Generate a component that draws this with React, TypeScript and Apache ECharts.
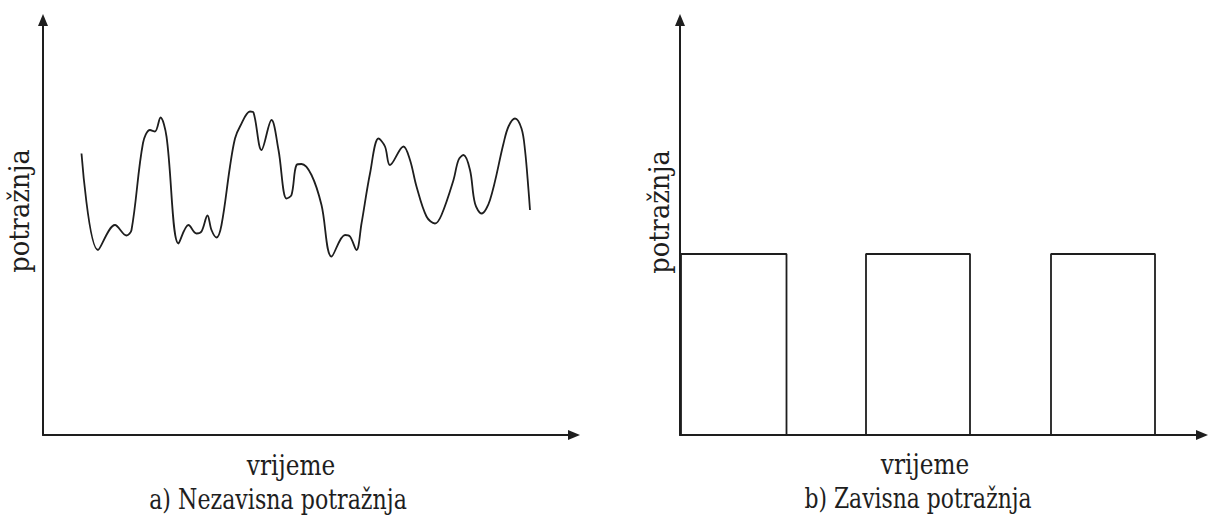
import React, { useEffect, useRef } from "react";
import * as echarts from "echarts";

// Left chart: independent demand over time (x = time, y = demand)
const timeA: number[] = [
  7.7, 11.0, 14.4, 16.7, 17.7, 20.0, 21.4, 22.4, 23.5, 24.7, 27.1, 29.1, 30.7, 31.7, 32.9, 33.7,
  34.7, 35.7, 37.4, 38.4, 39.4, 41.4, 42.1, 43.7, 45.7, 47.1, 48.7, 49.7, 50.7, 51.7, 53.7, 55.7,
  57.7, 60.4, 61.4, 62.7, 63.7, 65.4, 67.1, 68.4, 69.4, 72.1, 73.4, 74.7, 76.7, 78.4, 79.7, 82.1,
  83.1, 84.1, 85.4, 86.4, 87.7, 89.4, 92.1, 93.1, 94.4, 95.7, 96.4, 97.1, 97.4,
];
const demandA: number[] = [
  56.3, 37.0, 42.0, 39.9, 41.0, 58.4, 61.0, 60.7, 63.5, 59.7, 38.3, 42.0, 40.3, 40.7, 43.9, 41.0,
  39.5, 42.0, 53.7, 59.3, 61.7, 64.7, 64.5, 57.0, 63.0, 57.0, 47.3, 48.0, 54.0, 54.2, 52.0, 46.0,
  35.7, 40.0, 39.7, 37.0, 42.3, 52.3, 59.3, 57.7, 54.0, 57.7, 55.0, 49.7, 43.7, 42.3, 44.0, 51.0,
  55.0, 56.0, 53.0, 46.3, 44.3, 47.0, 58.3, 61.7, 63.3, 61.3, 57.0, 49.0, 45.0,
];

// Right chart: dependent demand, blocks of constant demand
const blockStart: number[] = [0.2, 37.2, 74.2];
const blockEnd: number[] = [21.3, 58.0, 95.0];
const blockDemand: number[] = [36.2, 36.2, 36.2];

const xLabel = "vrijeme";
const yLabel = "potražnja";
const titleA = "a) Nezavisna potražnja";
const titleB = "b) Zavisna potražnja";

export default function App() {
  const ref = useRef<HTMLDivElement>(null);

  useEffect(() => {
    if (!ref.current) return;
    const chart = echarts.init(ref.current, undefined, { renderer: "svg" });

    const lineA = timeA.map((t, i) => [t, demandA[i]]);
    const lineB: number[][] = [];
    blockStart.forEach((s, i) => {
      lineB.push([s, 0], [s, blockDemand[i]], [blockEnd[i], blockDemand[i]], [blockEnd[i], 0]);
    });

    const ink = "#1e1e1e";
    const axisLine = {
      show: true,
      symbol: ["none", "triangle"],
      symbolSize: [10, 12],
      lineStyle: { color: ink, width: 2 },
    };
    const mkText = (
      text: string,
      x: number,
      y: number,
      size: number,
      rot: number,
      sx: number
    ) => ({
      type: "text",
      x,
      y,
      rotation: rot,
      scaleX: sx,
      style: {
        text,
        fill: ink,
        fontFamily: "DejaVu Serif",
        fontSize: size,
        textAlign: "center",
        textVerticalAlign: "middle",
      },
    });

    const baseX = {
      type: "value",
      min: 0,
      axisLine,
      axisTick: { show: false },
      axisLabel: { show: false },
      splitLine: { show: false },
    };
    const baseY = {
      type: "value",
      min: 0,
      max: 83,
      axisLine,
      axisTick: { show: false },
      axisLabel: { show: false },
      splitLine: { show: false },
    };

    chart.setOption({
      animation: false,
      backgroundColor: "#ffffff",
      grid: [
        { left: 43, top: 20, width: 531, height: 415 },
        { left: 680, top: 20, width: 522, height: 415 },
      ],
      xAxis: [
        { ...baseX, gridIndex: 0, max: 106.2 },
        { ...baseX, gridIndex: 1, max: 104.4 },
      ],
      yAxis: [
        { ...baseY, gridIndex: 0 },
        { ...baseY, gridIndex: 1 },
      ],
      series: [
        {
          type: "line",
          xAxisIndex: 0,
          yAxisIndex: 0,
          data: lineA,
          smooth: 0.35,
          showSymbol: false,
          lineStyle: { color: ink, width: 1.8 },
        },
        {
          type: "line",
          xAxisIndex: 1,
          yAxisIndex: 1,
          data: lineB,
          showSymbol: false,
          lineStyle: { color: ink, width: 1.8 },
        },
      ],
      graphic: [
        mkText(xLabel, 291, 466, 27, 0, 0.86),
        mkText(titleA, 278, 500, 27, 0, 0.82),
        mkText(yLabel, 19, 211, 28, Math.PI / 2, 0.92),
        mkText(xLabel, 925, 465, 27, 0, 0.86),
        mkText(titleB, 918, 499, 27, 0, 0.81),
        mkText(yLabel, 659, 212, 28, Math.PI / 2, 0.92),
      ],
    });

    return () => chart.dispose();
  }, []);

  return (
    <div
      ref={ref}
      style={{ position: "fixed", left: 0, top: 0, width: 1211, height: 519, background: "#fff" }}
    />
  );
}
